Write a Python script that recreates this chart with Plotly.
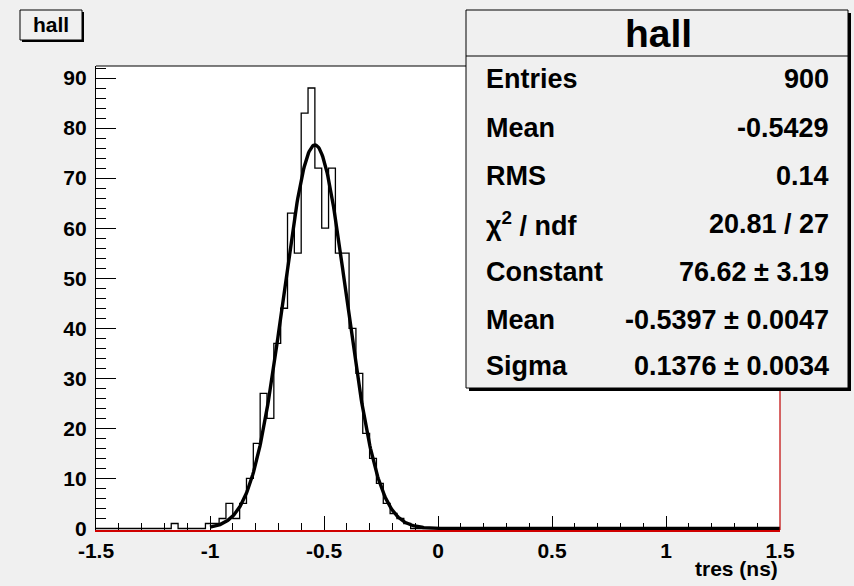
import numpy as np
import plotly.graph_objects as go

# ---- histogram "hall": 100 bins on [-1.5, 1.5] ----
x_min, x_max, n_bins = -1.5, 1.5, 100
bin_counts = [
    0, 0, 0, 0, 0, 0, 0, 0, 0, 0,
    0, 1, 0, 0, 0, 0, 1, 1, 2, 5,
    2, 5, 10, 17, 27, 22, 37, 44, 63, 55,
    83, 88, 72, 60, 72, 55, 55, 40, 31, 19,
    14, 9, 5, 3, 2, 1, 0, 0, 0, 0,
    0, 0, 0, 0, 0, 0, 0, 0, 0, 0,
    0, 0, 0, 0, 0, 0, 0, 0, 0, 0,
    0, 0, 0, 0, 0, 0, 0, 0, 0, 0,
    0, 0, 0, 0, 0, 0, 0, 0, 0, 0,
    0, 0, 0, 0, 0, 0, 0, 0, 0, 0,
]

# ---- gaus fit result ----
fit_constant = 76.62
fit_mean = -0.5397
fit_sigma = 0.1376
fit_range = (-1.0, 1.5)

# ---- statistics box ----
stat_labels = ["Entries", "Mean", "RMS", "\u03c7<sup>2</sup> / ndf", "Constant", "Mean", "Sigma"]
stat_values = ["900", "-0.5429", "0.14", "20.81 / 27",
               "76.62 \u00b1 3.19", "-0.5397 \u00b1 0.0047", "0.1376 \u00b1 0.0034"]

x_tick_vals = [-1.5, -1.0, -0.5, 0.0, 0.5, 1.0, 1.5]
x_tick_text = ["-1.5", "-1", "-0.5", "0", "0.5", "1", "1.5"]
y_tick_vals = [0, 10, 20, 30, 40, 50, 60, 70, 80, 90]
y_tick_text = ["0", "10", "20", "30", "40", "50", "60", "70", "80", "90"]
x_title = "tres (ns)"
hist_name = "hall"

# ---- canvas geometry (pixels) ----
W, H = 854, 586
L, R, T, B = 96, 780, 66, 530


def px(xp):
    return (xp - L) / (R - L)


def py(yp):
    return (B - yp) / (B - T)


FONT = "Liberation Sans"

edges = np.linspace(x_min, x_max, n_bins + 1)
step_y = list(bin_counts) + [bin_counts[-1]]
y_max = 1.05 * max(bin_counts)
# tiny headroom below zero so lines lying on the baseline are not cut in half
y_floor = -0.3

xf = np.linspace(fit_range[0], fit_range[1], 800)
yf = fit_constant * np.exp(-0.5 * ((xf - fit_mean) / fit_sigma) ** 2)

fig = go.Figure()
fig.add_trace(go.Scatter(x=edges, y=step_y, mode="lines", line_shape="hv",
                         line=dict(color="black", width=1.3), hoverinfo="skip"))
fig.add_trace(go.Scatter(x=xf, y=yf, mode="lines",
                         line=dict(color="black", width=3.4), hoverinfo="skip"))

fig.update_layout(
    width=W, height=H,
    margin=dict(l=L, r=W - R, t=T, b=H - B, pad=0),
    paper_bgcolor="#f0f0f0", plot_bgcolor="white",
    showlegend=False,
)

fig.update_xaxes(
    range=[x_min, x_max], tickmode="array", tickvals=x_tick_vals, ticktext=x_tick_text,
    ticks="inside", ticklen=14, tickwidth=1, tickcolor="black",
    minor=dict(tick0=x_min, dtick=0.1, ticks="inside", ticklen=7, tickcolor="black", tickwidth=1),
    showgrid=False, zeroline=False,
    showline=True, linecolor="#d00000", linewidth=2,
    tickfont=dict(family=FONT, size=21, color="black", weight="bold"),
    ticklabelstandoff=1, layer="below traces",
)
fig.update_yaxes(
    range=[y_floor, y_max], tickmode="array", tickvals=y_tick_vals, ticktext=y_tick_text,
    ticks="inside", ticklen=20, tickwidth=1, tickcolor="black",
    minor=dict(tick0=0, dtick=2, ticks="inside", ticklen=10, tickcolor="black", tickwidth=1),
    showgrid=False, zeroline=False,
    showline=True, linecolor="black", linewidth=1.2,
    tickfont=dict(family=FONT, size=21, color="black", weight="bold"),
    ticklabelstandoff=4, layer="below traces",
)

shapes = []
# frame: top edge black, right edge red
shapes.append(dict(type="line", xref="paper", yref="paper", x0=0, x1=1, y0=1, y1=1,
                   line=dict(color="black", width=1.2)))
shapes.append(dict(type="line", xref="paper", yref="paper", x0=1, x1=1, y0=0, y1=1,
                   line=dict(color="#c00000", width=1.2)))

# title pave with shadow
shapes.append(dict(type="rect", xref="paper", yref="paper",
                   x0=px(22), x1=px(84), y0=py(42), y1=py(12),
                   fillcolor="black", line=dict(width=0)))
shapes.append(dict(type="rect", xref="paper", yref="paper",
                   x0=px(20), x1=px(82), y0=py(40), y1=py(10),
                   fillcolor="#f0f0f0", line=dict(color="black", width=1)))

# stats pave with shadow
sx0, sx1, sy0, sy1 = 466, 848, 10, 388
shapes.append(dict(type="rect", xref="paper", yref="paper",
                   x0=px(sx0 + 3), x1=px(sx1 + 3), y0=py(sy1 + 3), y1=py(sy0 + 3),
                   fillcolor="black", line=dict(width=0)))
shapes.append(dict(type="rect", xref="paper", yref="paper",
                   x0=px(sx0), x1=px(sx1), y0=py(sy1), y1=py(sy0),
                   fillcolor="#f0f0f0", line=dict(color="black", width=1)))
shapes.append(dict(type="line", xref="paper", yref="paper",
                   x0=px(sx0), x1=px(sx1), y0=py(56), y1=py(56),
                   line=dict(color="black", width=1)))
fig.update_layout(shapes=shapes)

ann = []
ann.append(dict(text=f"<b>{hist_name}</b>", x=px(51), y=py(25), xref="paper", yref="paper",
                xanchor="center", yanchor="middle", showarrow=False,
                font=dict(family=FONT, size=21, color="black")))
ann.append(dict(text=f"<b>{hist_name}</b>", x=px(658), y=py(33), xref="paper", yref="paper",
                xanchor="center", yanchor="middle", showarrow=False,
                font=dict(family=FONT, size=39, color="black")))
row_y = [79, 128, 176, 224, 272, 320, 366]
for lab, val, yy in zip(stat_labels, stat_values, row_y):
    ann.append(dict(text=f"<b>{lab}</b>", x=px(484), y=py(yy), xref="paper", yref="paper",
                    xanchor="left", yanchor="middle", showarrow=False,
                    font=dict(family=FONT, size=27, color="black")))
    ann.append(dict(text=f"<b>{val}</b>", x=px(831), y=py(yy), xref="paper", yref="paper",
                    xanchor="right", yanchor="middle", showarrow=False,
                    font=dict(family=FONT, size=27, color="black")))
ann.append(dict(text=f"<b>{x_title}</b>", x=1, y=py(568), xref="paper", yref="paper",
                xanchor="right", yanchor="middle", showarrow=False,
                font=dict(family=FONT, size=21, color="black")))
fig.update_layout(annotations=ann)

fig.write_html("out.html")
